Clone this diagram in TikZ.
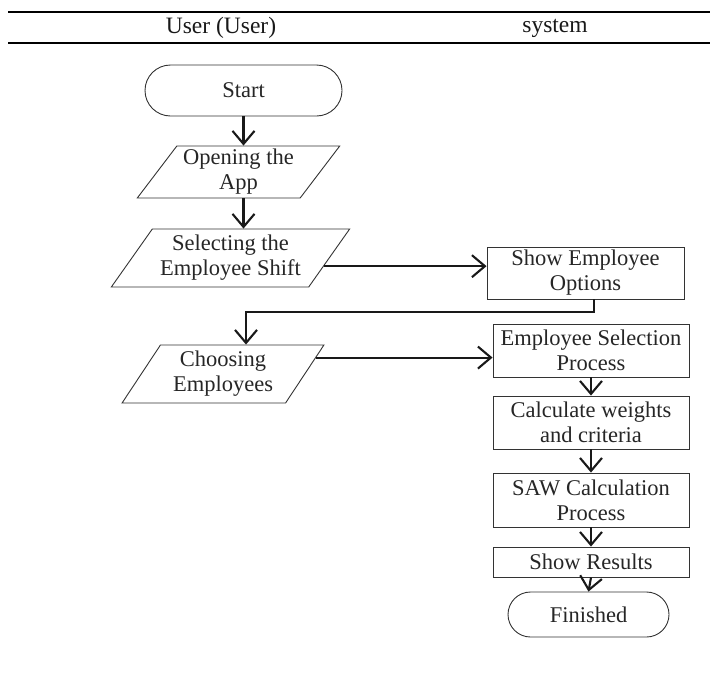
\documentclass[tikz,border=0pt]{standalone}
\usepackage{fontspec}
\setmainfont{Liberation Serif}
\usetikzlibrary{arrows.meta,shapes.geometric}
\begin{document}
\begin{tikzpicture}[x=1pt,y=-1pt,
  txt/.style={font=\fontsize{22.5}{25}\selectfont, align=center, inner sep=0pt, text=black!85},
  hdr/.style={font=\fontsize{23.5}{26}\selectfont, inner sep=0pt, text=black!90},
  procbox/.style={txt, draw=black!80, line width=0.9pt, minimum width=196pt},
  iobox/.style={txt, draw=black!80, line width=0.9pt, trapezium, trapezium stretches=true},
  termbox/.style={txt, draw=black!80, line width=0.9pt},
  arr/.style={draw=black!90, line width=2.1pt, -{Straight Barb[length=13pt,width=22pt,line width=2.1pt]}},
  rule/.style={draw=black, line cap=butt}
]
\useasboundingbox (0,0) rectangle (710,683);

% header
\draw[rule, line width=1.5pt] (8,12) -- (710,12);
\draw[rule, line width=2.6pt] (8,43) -- (710,43);
\node[hdr] (hUser) at (221,28) {User (User)};
\node[hdr] (hSys) at (555,28) {system};

% user lane
\node[termbox, rounded corners=25.5pt, minimum width=197pt, minimum height=51pt] (start) at (243.5,90.5) {Start};
\node[iobox, trapezium left angle=52, trapezium right angle=128, minimum width=203pt, minimum height=52pt] (open) at (238.5,172) {Opening the\\App};
\node[iobox, trapezium left angle=51, trapezium right angle=129, minimum width=239pt, minimum height=58pt] (sel) at (230.5,258) {Selecting the\\Employee Shift};
\node[iobox, trapezium left angle=56, trapezium right angle=124, minimum width=202pt, minimum height=58pt] (cho) at (223,374) {Choosing\\Employees};

% system lane
\node[procbox, minimum width=197pt, minimum height=52pt] (opt) at (585.5,273) {Show Employee\\Options};
\node[procbox, minimum height=53pt] (esp) at (591,350.5) {Employee Selection\\Process};
\node[procbox, minimum height=53pt] (calc) at (591,422.5) {Calculate weights\\and criteria};
\node[procbox, minimum height=54pt] (saw) at (591,500) {SAW Calculation\\Process};
\node[procbox, minimum height=30pt] (res) at (591,562) {Show Results};
\node[termbox, rounded corners=22.5pt, minimum width=161pt, minimum height=45pt] (fin) at (588.5,614.5) {Finished};

\coordinate (bend) at (246,312);

% connectors
\draw[arr] (start.south) -- (start.south |- open.north);
\draw[arr] (start.south |- open.south) -- (start.south |- sel.north);
\draw[arr] (sel.-5) -- (sel.-5 -| opt.west);
\draw[arr] ([xshift=8.5pt]opt.south) |- (bend) -- (bend |- cho.north);
\draw[arr] (cho.10) -- (cho.10 -| esp.west);
\draw[arr] (esp.south) -- (calc.north);
\draw[arr] (calc.south) -- (saw.north);
\draw[arr] (saw.south) -- (res.north);
\draw[arr] (res.south) -- (fin.north);
\end{tikzpicture}
\end{document}
